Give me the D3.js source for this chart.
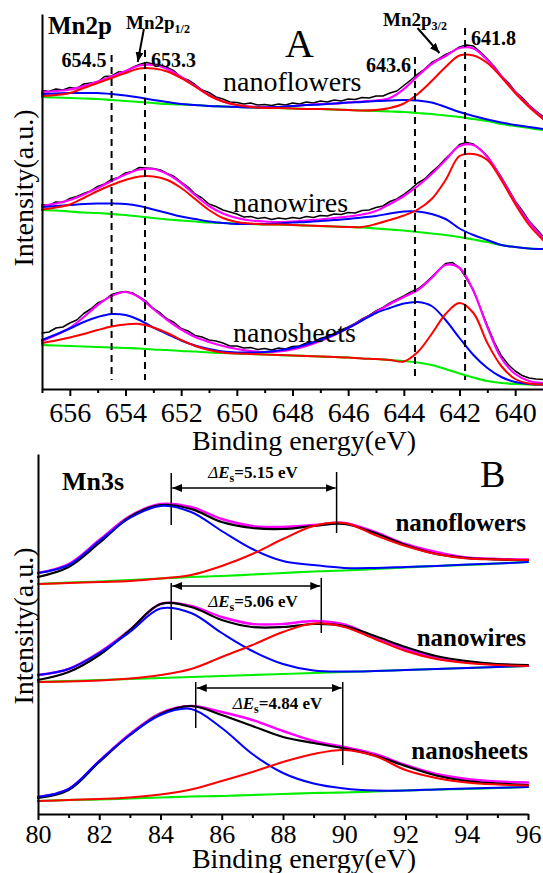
<!DOCTYPE html>
<html><head><meta charset="utf-8">
<script src="https://cdn.jsdelivr.net/npm/d3@7"></script>
<style>
body{margin:0;background:#fff}
svg{display:block}
text{font-family:"Liberation Serif","Times New Roman",Tinos,"DejaVu Serif",serif;fill:#000}
</style>
</head><body>
<svg id="c" width="543" height="873"></svg>
<script>
// ---------------- DATA: panel A (Mn2p) ----------------
const energyA = [657,656.5,656,655.5,655,654.5,654,653.5,653,652.5,652,651.5,651,650.5,650,649.5,649,648.5,648,647.5,647,646.5,646,645.5,645,644.5,644,643.5,643,642.5,642,641.5,641,640.5,640,639.5,639];
const energyAraw = [657,656.75,656.5,656.25,656,655.75,655.5,655.25,655,654.75,654.5,654.25,654,653.75,653.5,653.25,653,652.75,652.5,652.25,652,651.75,651.5,651.25,651,650.75,650.5,650.25,650,649.75,649.5,649.25,649,648.75,648.5,648.25,648,647.75,647.5,647.25,647,646.75,646.5,646.25,646,645.75,645.5,645.25,645,644.75,644.5,644.25,644,643.75,643.5,643.25,643,642.75,642.5,642.25,642,641.75,641.5,641.25,641,640.75,640.5,640.25,640,639.75,639.5,639.25,639];
const majorTicksA = [656,654,652,650,648,646,644,642,640];
const minorTicksA = [657,655,653,651,649,647,645,643,641];

// nanoflowers
const aFlowersRaw = [59.7,59.5,60.0,59.8,60.3,60.1,61.0,61.2,61.4,62.5,62.6,63.4,63.5,64.3,64.9,65.3,65.0,64.8,64.3,63.6,62.3,61.8,60.9,59.8,59.3,58.4,58.0,57.4,57.3,57.0,57.2,56.8,56.9,56.7,57.0,56.8,57.2,57.0,57.4,57.2,57.6,57.4,57.8,57.6,58.0,57.9,58.3,58.2,58.6,58.6,59.2,59.6,60.7,61.8,63.0,64.0,65.3,66.0,66.9,67.5,68.4,68.8,68.6,67.4,66.0,64.5,62.6,61.3,59.5,58.3,56.8,55.6,54.5];
const aFlowersFit = [59.4,59.6,59.9,60.6,61.5,62.5,63.6,64.7,64.8,64.0,62.4,60.6,58.8,57.5,56.8,56.5,56.4,56.4,56.6,56.8,57.0,57.1,57.3,57.5,57.7,58.2,60.0,62.6,65.0,66.6,68.2,68.1,65.8,62.6,59.4,56.6,54.2];
const aFlowersRed = [58.6,58.8,59.2,60.2,61.2,62.2,63.2,64.1,64.1,63.5,62.2,60.5,58.7,57.5,56.8,56.4,56.2,56.2,56.1,56.0,56.0,55.9,55.8,55.7,55.8,56.2,57.1,59.0,61.6,64.4,66.7,66.7,65.2,62.4,59.2,56.4,54.0];
const aFlowersBlue = [59.0,59.1,59.2,59.2,59.2,59.0,58.7,58.3,57.8,57.4,57.0,56.8,56.6,56.5,56.4,56.3,56.3,56.4,56.6,56.8,56.9,57.1,57.3,57.4,57.6,57.7,57.8,57.7,57.3,56.4,55.4,54.6,53.9,53.3,52.8,52.4,52.0];
const aFlowersBg = [58.4,58.3,58.2,58.1,58.0,57.8,57.6,57.4,57.2,57.0,56.9,56.8,56.6,56.5,56.4,56.3,56.2,56.2,56.1,56.0,56.0,55.9,55.8,55.7,55.6,55.5,55.4,55.2,55.0,54.7,54.4,54.0,53.6,53.0,52.6,52.2,51.8];

// nanowires
const aWiresRaw = [36.9,36.7,37.4,37.3,38.1,38.5,39.1,39.6,40.5,41.0,41.9,42.3,43.2,43.5,44.3,44.2,44.1,43.8,43.1,42.5,41.4,40.4,39.0,38.2,37.0,36.5,35.8,35.4,35.0,34.4,34.5,34.1,34.3,33.9,34.2,34.0,34.3,34.1,34.5,34.3,34.7,34.6,35.0,34.9,35.3,35.2,35.7,35.8,36.3,36.6,37.5,38.0,38.9,40.0,41.2,42.0,43.4,44.6,46.1,47.4,48.9,49.3,49.0,47.9,46.6,44.5,42.4,40.0,37.6,35.7,33.6,32.1,30.5];
const aWiresFit = [36.6,37.1,37.8,38.9,40.2,41.6,42.9,43.9,44.0,43.0,41.2,38.8,36.6,35.1,34.2,33.7,33.5,33.4,33.5,33.7,33.9,34.2,34.5,34.9,35.6,37.0,38.6,40.6,43.0,45.8,48.6,48.8,46.4,42.2,37.4,33.4,30.2];
const aWiresRed = [35.9,36.3,36.9,38.2,39.6,40.8,41.8,42.5,42.5,41.8,40.2,38.0,35.8,34.2,33.4,33.1,32.9,32.9,32.8,32.7,32.6,32.5,32.4,32.4,33.0,33.8,34.7,35.9,38.0,41.8,46.6,47.0,45.8,41.8,37.0,32.8,29.8];
const aWiresBlue = [36.4,36.6,36.8,37.0,37.1,37.1,37.0,36.6,35.9,35.2,34.5,34.0,33.5,33.2,33.0,33.0,33.0,33.1,33.3,33.4,33.6,33.8,34.0,34.3,34.6,35.1,35.5,35.5,35.0,34.0,32.1,30.8,29.8,28.8,28.4,28.1,28.0];
const aWiresBg = [35.8,35.7,35.5,35.3,35.2,35.0,34.8,34.5,34.2,33.9,33.7,33.5,33.3,33.2,33.1,33.0,32.9,32.9,32.8,32.7,32.6,32.5,32.4,32.3,32.1,31.9,31.7,31.4,31.1,30.8,30.4,29.9,29.4,28.8,28.4,28.1,28.0];

// nanosheets
const aSheetsRaw = [11.2,11.4,12.2,12.4,13.2,13.8,15.1,16.0,17.2,17.8,18.9,19.3,19.5,19.2,18.4,17.5,16.1,15.2,14.0,13.3,12.1,11.6,10.7,10.4,9.8,9.6,9.2,8.6,8.6,8.2,8.3,7.9,8.1,7.8,8.2,8.0,8.5,8.6,9.2,9.4,10.1,10.5,11.1,11.8,12.4,13.1,14.0,14.7,15.6,16.3,17.2,17.9,18.6,19.4,20.0,21.1,22.4,23.8,25.1,25.3,24.3,22.1,19.8,16.2,12.7,9.4,6.7,4.9,3.6,2.7,2.2,2.0,1.9];
const aSheetsFit = [9.6,10.8,12.2,14.4,16.8,18.6,19.4,18.3,16.0,13.8,11.9,10.4,9.4,8.6,8.0,7.6,7.4,7.5,7.9,8.6,9.6,10.8,12.2,13.8,15.4,17.0,18.4,19.8,22.2,24.8,24.2,19.6,12.4,6.2,3.0,1.6,1.2];
const aSheetsRed = [9.2,9.7,10.3,11.0,11.8,12.5,12.9,13.0,12.3,11.2,9.8,8.6,7.8,7.3,7.1,7.0,6.9,6.8,6.7,6.6,6.5,6.4,6.3,6.1,6.0,5.8,5.5,7.4,11.0,15.0,17.2,15.2,9.2,4.6,2.0,1.1,0.9];
const aSheetsBlue = [9.8,10.9,12.1,13.4,14.4,15.0,14.8,13.8,12.3,11.0,9.7,8.7,8.0,7.5,7.3,7.3,7.4,7.7,8.2,8.9,9.8,10.9,12.2,13.7,15.2,16.2,17.1,17.4,16.6,13.8,10.2,6.8,4.2,2.4,1.4,1.0,0.9];
const aSheetsBg = [8.8,8.7,8.6,8.5,8.4,8.3,8.2,8.1,7.9,7.8,7.6,7.5,7.3,7.2,7.1,7.0,6.9,6.8,6.7,6.6,6.5,6.4,6.3,6.1,6.0,5.8,5.6,5.3,4.8,4.0,3.1,2.3,1.6,1.2,1.0,0.9,0.9];

// peak markers (eV) and their dashed extent (intensity a.u.)
const peakLinesA = [654.5, 653.3, 643.6, 641.8];
const peakLineTopA = [66.8, 67.8, 66.4, 72.2];
const peakLineBottomA = [1.8, 1.8, 1.8, 1.8];
const peakLabelsA = ["654.5", "653.3", "643.6", "641.8"];

// ---------------- DATA: panel B (Mn3s) ----------------
const energyB = [80,81,82,83,84,85,86,87,88,89,90,91,92,93,94,95,96];
const majorTicksB = [80,82,84,86,88,90,92,94,96];
const minorTicksB = [81,83,85,87,89,91,93,95];

const bFlowersRaw = [47.4,49.4,54.2,59.4,61.8,61.0,58.4,57.2,57.0,57.6,58.0,56.2,53.8,52.0,51.2,50.9,50.8];
const bFlowersFit = [48.2,50.0,54.8,59.6,62.0,61.4,59.0,57.6,57.4,57.8,58.2,56.4,54.0,52.4,51.3,51.0,50.9];
const bFlowersRed = [46.0,46.2,46.4,46.6,47.1,47.8,49.6,52.0,55.0,57.6,58.2,55.8,53.6,52.0,51.1,50.9,50.8];
const bFlowersBlue = [48.2,49.8,54.6,59.2,61.6,60.4,56.6,53.0,50.6,49.8,49.2,49.2,49.4,49.6,49.9,50.1,50.4];
const bFlowersBg = [46.0,46.3,46.5,46.8,47.1,47.4,47.6,47.9,48.2,48.5,48.7,49.0,49.3,49.6,49.8,50.1,50.4];

const bWiresRaw = [26.8,28.4,31.8,36.8,42.0,41.4,38.8,37.4,37.4,38.0,37.6,35.6,33.4,31.6,30.6,30.0,29.8];
const bWiresFit = [27.8,29.0,32.3,36.8,42.0,41.6,39.4,38.0,38.0,38.6,37.9,35.4,33.0,31.3,30.4,29.9,29.7];
const bWiresRed = [26.4,26.5,26.7,27.1,27.8,29.0,31.4,33.8,36.4,38.1,37.4,35.0,32.6,31.0,30.2,29.8,29.6];
const bWiresBlue = [27.8,29.0,32.2,36.4,41.1,40.2,36.2,32.6,30.0,28.7,28.5,28.6,28.8,29.0,29.2,29.4,29.6];
const bWiresBg = [26.4,26.6,26.8,27.0,27.2,27.4,27.6,27.8,28.0,28.2,28.4,28.6,28.8,29.0,29.2,29.4,29.6];

const bSheetsRaw = [3.2,4.8,10.4,15.8,20.0,21.6,19.8,17.6,15.4,14.2,13.1,11.7,9.6,7.7,6.6,6.1,5.8];
const bSheetsFit = [3.4,5.0,10.6,16.0,20.2,21.6,20.4,18.8,16.6,14.6,13.4,12.0,9.8,8.0,7.0,6.5,6.3];
const bSheetsRed = [2.6,2.8,3.0,3.3,3.9,4.9,6.6,8.4,10.4,12.0,12.8,11.6,8.8,7.2,6.3,5.9,5.7];
const bSheetsBlue = [3.4,5.0,10.6,15.8,19.8,21.0,17.2,12.0,8.2,6.1,5.1,4.7,4.7,4.9,5.1,5.25,5.4];
const bSheetsBg = [2.6,2.8,2.9,3.1,3.3,3.5,3.6,3.8,4.0,4.2,4.3,4.5,4.7,4.9,5.0,5.2,5.4];

// multiplet splitting markers: left/right energies (eV), arrow level, label
const splitLeftB = [84.35, 84.35, 85.15];
const splitRightB = [89.75, 89.25, 89.95];
const splitValuesB = ["5.15", "5.06", "4.84"];
const splitArrowB = [65.2, 45.6, 25.2];
const splitLabelB = [67.2, 41.4, 21.0];
const splitLeftSpanB = [[68.2, 57.8], [46.2, 34.8], [26.4, 17.2]];
const splitRightSpanB = [[68.4, 56.2], [47.2, 36.2], [26.4, 9.8]];

// ---------------- DRAWING ----------------
const SERIF = '"Liberation Serif","Times New Roman",Tinos,"DejaVu Serif",serif';
const COLORS = {raw:"#000000", fit:"#ff00ff", red:"#ff0000", blue:"#0000ff", bg:"#00ee00"};
const svg = d3.select("#c");

const defs = svg.append("defs");
defs.append("marker").attr("id","ah").attr("viewBox","0 0 10 8")
  .attr("refX",10).attr("refY",4).attr("markerWidth",10).attr("markerHeight",8)
  .attr("markerUnits","userSpaceOnUse").attr("orient","auto-start-reverse")
  .append("path").attr("d","M0,0L10,4L0,8Z").attr("fill","#000");

const xA = d3.scaleLinear().domain([657, 639]).range([42, 543]);
const yA = d3.scaleLinear().domain([0, 75]).range([389, 14]);
const xB = d3.scaleLinear().domain([80, 96]).range([38, 528]);
const yB = d3.scaleLinear().domain([0, 72]).range([814, 454]);

function curve(g, xs, ys, xs_, ys_, color, w, c) {
  const pts = xs.map((x, i) => [x, ys[i]]);
  g.append("path").datum(pts)
    .attr("fill", "none").attr("stroke", color).attr("stroke-width", w)
    .attr("stroke-linejoin", "round").attr("stroke-linecap", "round")
    .attr("d", d3.line().x(d => xs_(d[0])).y(d => ys_(d[1])).curve(c));
}

function styleAxis(g, fs) {
  g.attr("font-family", SERIF);
  g.select(".domain").attr("stroke-width", 2).attr("stroke", "#000");
  g.selectAll(".tick line").attr("stroke-width", 2).attr("stroke", "#000");
  g.selectAll(".tick text").attr("font-size", fs).attr("font-family", SERIF).attr("fill", "#000");
}

// ---- Panel A ----
const gA = svg.append("g");
const specA = [
  [aFlowersRaw, aFlowersFit, aFlowersRed, aFlowersBlue, aFlowersBg],
  [aWiresRaw, aWiresFit, aWiresRed, aWiresBlue, aWiresBg],
  [aSheetsRaw, aSheetsFit, aSheetsRed, aSheetsBlue, aSheetsBg]
];
specA.forEach(s => {
  curve(gA, energyAraw, s[0], xA, yA, COLORS.raw, 1.5, d3.curveLinear);
  curve(gA, energyA, s[1], xA, yA, COLORS.fit, 2.2, d3.curveCatmullRom);
  curve(gA, energyA, s[4], xA, yA, COLORS.bg, 2.2, d3.curveCatmullRom);
  curve(gA, energyA, s[3], xA, yA, COLORS.blue, 2, d3.curveCatmullRom);
  curve(gA, energyA, s[2], xA, yA, COLORS.red, 2, d3.curveCatmullRom);
});

// dashed peak lines
peakLinesA.forEach((e, i) => {
  gA.append("line").attr("x1", xA(e)).attr("x2", xA(e))
    .attr("y1", yA(peakLineTopA[i])).attr("y2", yA(peakLineBottomA[i]))
    .attr("stroke", "#000").attr("stroke-width", 2).attr("stroke-dasharray", "7,5");
});
const lblA = [
  {t: peakLabelsA[0], e: peakLinesA[0], dx: -5, v: 64.4, anchor: "end"},
  {t: peakLabelsA[1], e: peakLinesA[1], dx: 6, v: 64.4, anchor: "start"},
  {t: peakLabelsA[2], e: peakLinesA[2], dx: -4, v: 63.4, anchor: "end"},
  {t: peakLabelsA[3], e: peakLinesA[3], dx: 6, v: 68.8, anchor: "start"}
];
lblA.forEach(l => {
  gA.append("text").attr("x", xA(l.e) + l.dx).attr("y", yA(l.v))
    .attr("text-anchor", l.anchor).attr("font-size", 20).attr("font-weight", "bold").text(l.t);
});

// axes A
const axA = gA.append("g").attr("transform", `translate(0,${yA(0)})`)
  .call(d3.axisBottom(xA).tickValues(majorTicksA).tickFormat(d3.format("d")).tickSize(7).tickPadding(6).tickSizeOuter(0));
styleAxis(axA, 28);
const axAm = gA.append("g").attr("transform", `translate(0,${yA(0)})`)
  .call(d3.axisBottom(xA).tickValues(minorTicksA).tickFormat("").tickSize(4).tickSizeOuter(0));
styleAxis(axAm, 28);
axAm.select(".domain").remove();
const ayA = gA.append("g").attr("transform", `translate(${xA(657)},0)`)
  .call(d3.axisLeft(yA).tickValues([]).tickSizeOuter(0));
styleAxis(ayA, 28);

gA.append("text").attr("x", 304).attr("y", 450).attr("text-anchor", "middle").attr("font-size", 28).text("Binding energy(eV)");
gA.append("text").attr("transform", "translate(33,188) rotate(-90)").attr("text-anchor", "middle").attr("font-size", 28).text("Intensity(a.u.)");
gA.append("text").attr("x", 48).attr("y", 34).attr("font-size", 25).attr("font-weight", "bold").text("Mn2p");
gA.append("text").attr("x", 285).attr("y", 57).attr("font-size", 40).text("A");
gA.append("text").attr("x", 223).attr("y", 91).attr("font-size", 28).text("nanoflowers");
gA.append("text").attr("x", 233).attr("y", 212).attr("font-size", 28).text("nanowires");
gA.append("text").attr("x", 233).attr("y", 342).attr("font-size", 28).text("nanosheets");

function subLabel(g, x, y, main, sub) {
  const t = g.append("text").attr("x", x).attr("y", y).attr("font-size", 19).attr("font-weight", "bold");
  t.append("tspan").text(main);
  t.append("tspan").attr("font-size", 12).attr("dy", 4).text(sub);
}
subLabel(gA, 126, 29, "Mn2p", "1/2");
subLabel(gA, 383, 26, "Mn2p", "3/2");
gA.append("line").attr("x1", xA(653.34)).attr("y1", yA(72)).attr("x2", xA(653.56)).attr("y2", yA(65.4))
  .attr("stroke", "#000").attr("stroke-width", 2).attr("marker-end", "url(#ah)");
gA.append("line").attr("x1", xA(643.51)).attr("y1", yA(72.2)).attr("x2", xA(642.72)).attr("y2", yA(67.2))
  .attr("stroke", "#000").attr("stroke-width", 2).attr("marker-end", "url(#ah)");

// ---- Panel B ----
const gB = svg.append("g");
const specB = [
  [bFlowersRaw, bFlowersFit, bFlowersRed, bFlowersBlue, bFlowersBg],
  [bWiresRaw, bWiresFit, bWiresRed, bWiresBlue, bWiresBg],
  [bSheetsRaw, bSheetsFit, bSheetsRed, bSheetsBlue, bSheetsBg]
];
specB.forEach(s => {
  curve(gB, energyB, s[1], xB, yB, COLORS.fit, 2.4, d3.curveCatmullRom);
  curve(gB, energyB, s[0], xB, yB, COLORS.raw, 2.2, d3.curveCatmullRom);
  curve(gB, energyB, s[4], xB, yB, COLORS.bg, 2.2, d3.curveCatmullRom);
  curve(gB, energyB, s[3], xB, yB, COLORS.blue, 2, d3.curveCatmullRom);
  curve(gB, energyB, s[2], xB, yB, COLORS.red, 2, d3.curveCatmullRom);
});

splitLeftB.forEach((eL, i) => {
  const eR = splitRightB[i];
  gB.append("line").attr("x1", xB(eL)).attr("x2", xB(eL))
    .attr("y1", yB(splitLeftSpanB[i][0])).attr("y2", yB(splitLeftSpanB[i][1]))
    .attr("stroke", "#000").attr("stroke-width", 1.5);
  gB.append("line").attr("x1", xB(eR)).attr("x2", xB(eR))
    .attr("y1", yB(splitRightSpanB[i][0])).attr("y2", yB(splitRightSpanB[i][1]))
    .attr("stroke", "#000").attr("stroke-width", 1.5);
  gB.append("line").attr("x1", xB(eL) + 1).attr("x2", xB(eR) - 1)
    .attr("y1", yB(splitArrowB[i])).attr("y2", yB(splitArrowB[i]))
    .attr("stroke", "#000").attr("stroke-width", 1.5)
    .attr("marker-start", "url(#ah)").attr("marker-end", "url(#ah)");
  const t = gB.append("text").attr("x", xB(eL) + 37).attr("y", yB(splitLabelB[i]))
    .attr("font-size", 17).attr("font-weight", "bold");
  t.append("tspan").attr("font-style", "italic").attr("font-weight", "normal").text("Δ");
  t.append("tspan").attr("font-style", "italic").text("E");
  t.append("tspan").attr("font-size", 12).attr("dy", 4).text("s");
  t.append("tspan").attr("dy", -4).text("=" + splitValuesB[i] + " eV");
});

const axB = gB.append("g").attr("transform", `translate(0,${yB(0)})`)
  .call(d3.axisBottom(xB).tickValues(majorTicksB).tickFormat(d3.format("d")).tickSize(6).tickPadding(5).tickSizeOuter(0));
styleAxis(axB, 26);
const axBm = gB.append("g").attr("transform", `translate(0,${yB(0)})`)
  .call(d3.axisBottom(xB).tickValues(minorTicksB).tickFormat("").tickSize(4).tickSizeOuter(0));
styleAxis(axBm, 26);
axBm.select(".domain").remove();
const ayB = gB.append("g").attr("transform", `translate(${xB(80)},0)`)
  .call(d3.axisLeft(yB).tickValues([]).tickSizeOuter(0));
styleAxis(ayB, 26);

gB.append("text").attr("x", 304).attr("y", 868).attr("text-anchor", "middle").attr("font-size", 28).text("Binding energy(eV)");
gB.append("text").attr("transform", "translate(33,626) rotate(-90)").attr("text-anchor", "middle").attr("font-size", 28).text("Intensity(a.u.)");
gB.append("text").attr("x", 62).attr("y", 490).attr("font-size", 26).attr("font-weight", "bold").text("Mn3s");
gB.append("text").attr("x", 480).attr("y", 487).attr("font-size", 38).text("B");
gB.append("text").attr("x", 526).attr("y", 531).attr("text-anchor", "end").attr("font-size", 25).attr("font-weight", "bold").text("nanoflowers");
gB.append("text").attr("x", 526).attr("y", 646).attr("text-anchor", "end").attr("font-size", 25).attr("font-weight", "bold").text("nanowires");
gB.append("text").attr("x", 528).attr("y", 759).attr("text-anchor", "end").attr("font-size", 25).attr("font-weight", "bold").text("nanosheets");
</script>
</body></html>
